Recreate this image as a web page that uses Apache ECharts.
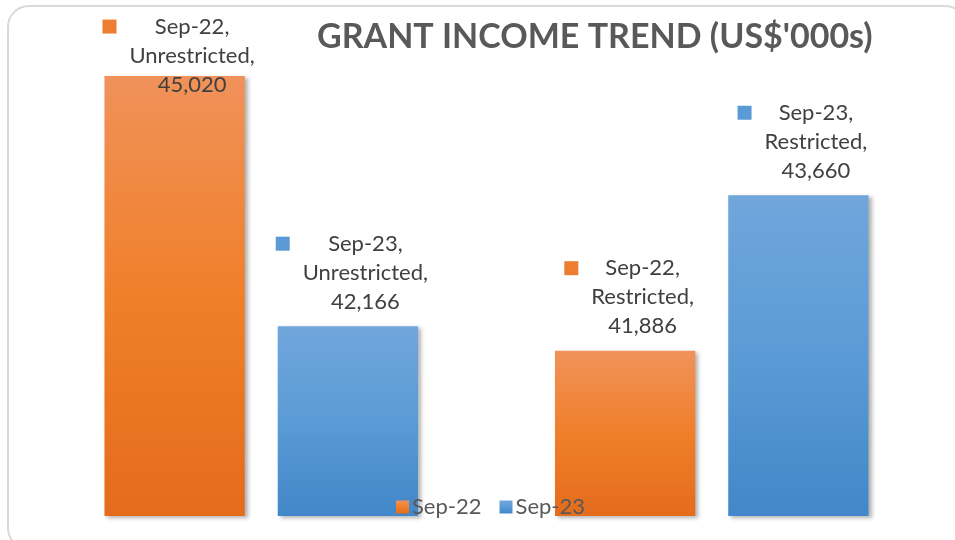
<!DOCTYPE html>
<html>
<head>
<meta charset="utf-8">
<script src="https://cdn.jsdelivr.net/npm/echarts@6/dist/echarts.min.js"></script>
<style>
  html, body { margin: 0; padding: 0; background: #fff; }
  #frame {
    position: absolute; left: 7px; top: 5px; width: 960px; height: 545px;
    border: 2px solid #d9d9d9; border-radius: 22px; box-sizing: border-box;
  }
  #chart { position: absolute; left: 0; top: 0; width: 955px; height: 540px; }
</style>
</head>
<body>
<div id="frame"></div>
<div id="chart"></div>
<script>
// chart data
const categories = ['Unrestricted', 'Restricted']
const sep22 = [45020, 41886]
const sep23 = [42166, 43660]
const seriesNames = ['Sep-22', 'Sep-23']

const fmt = v => v.toLocaleString('en-US')

const orange = new echarts.graphic.LinearGradient(0, 0, 0, 1, [
  { offset: 0, color: '#F0925A' },
  { offset: 0.5, color: '#F07F2A' },
  { offset: 1, color: '#E46C1C' }
])
const blue = new echarts.graphic.LinearGradient(0, 0, 0, 1, [
  { offset: 0, color: '#70A6DC' },
  { offset: 0.5, color: '#5B9BD5' },
  { offset: 1, color: '#4287C9' }
])

const textStyle = { align: 'center', fontSize: 22, lineHeight: 29, color: '#404040', fontFamily: 'Lato' }

function makeLabel(iconColor) {
  return {
    show: true,
    position: 'top',
    distance: 10,
    offset: [4, 0],
    formatter: p =>
      '{ic|}{g|}{t|' + p.seriesName + ',}\n{sp|}{t|' + p.name + ',}\n{sp|}{t|' + fmt(p.value) + '}',
    rich: {
      ic: { align: 'left', width: 14, height: 14, backgroundColor: iconColor, lineHeight: 29 },
      g: { align: 'left', width: 13, lineHeight: 29 },
      sp: { align: 'left', width: 27, lineHeight: 29 },
      t: textStyle
    }
  }
}

const shadow = { shadowColor: 'rgba(0,0,0,0.3)', shadowBlur: 4, shadowOffsetX: 3, shadowOffsetY: 2 }

const chart = echarts.init(document.getElementById('chart'))

const option = {
  animation: false,
  title: {
    text: "GRANT INCOME TREND (US$'000s)",
    left: 312,
    top: 15,
    textStyle: { fontSize: 34, fontWeight: 'bold', color: '#595959', fontFamily: 'Lato' }
  },
  legend: {
    data: seriesNames,
    left: 391,
    top: 491,
    icon: 'rect',
    itemWidth: 13,
    itemHeight: 13,
    itemGap: 18,
    textStyle: { fontSize: 22, color: '#595959', fontFamily: 'Lato', padding: [0, 0, 0, -2] }
  },
  grid: { left: 36, right: 18, top: 34, bottom: 24 },
  xAxis: {
    type: 'category',
    data: categories,
    show: false
  },
  yAxis: {
    type: 'value',
    min: 40000,
    max: 45500,
    show: false
  },
  series: [
    {
      name: seriesNames[0],
      type: 'bar',
      barGap: '23.5%',
      barCategoryGap: '30.4%',
      itemStyle: Object.assign({ color: orange }, shadow),
      label: makeLabel('#ED7D31'),
      data: sep22.map((v, i) => i === 0 ? { value: v, label: { offset: [4, 33] } } : v)
    },
    {
      name: seriesNames[1],
      type: 'bar',
      itemStyle: Object.assign({ color: blue }, shadow),
      label: makeLabel('#5B9BD5'),
      data: sep23
    }
  ]
}

chart.setOption(option)
</script>
</body>
</html>
